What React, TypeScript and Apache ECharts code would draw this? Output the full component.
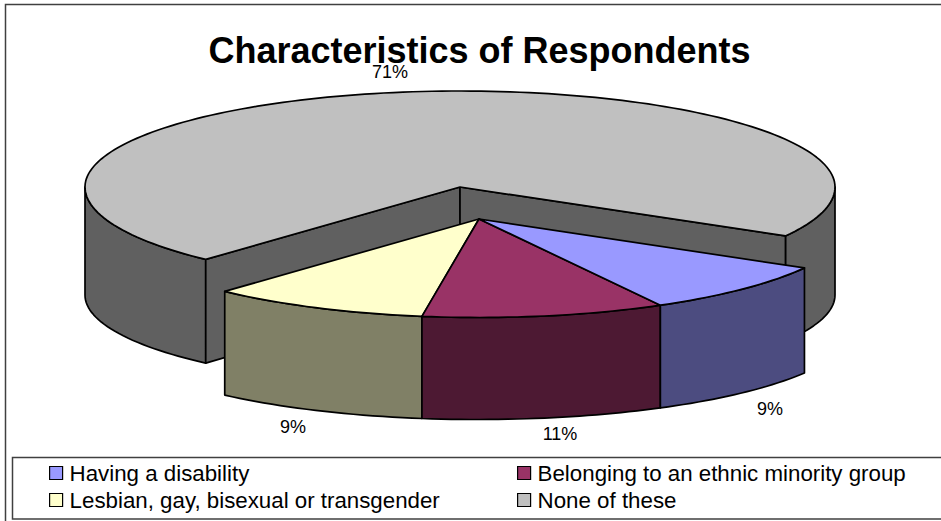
import React, { useEffect, useRef } from "react";
import * as echarts from "echarts";

const titleText = "Characteristics of Respondents";
const categories = [
  "Having a disability",
  "Belonging to an ethnic minority group",
  "Lesbian, gay, bisexual or transgender",
  "None of these",
];
const values = [9, 11, 9, 71];
const topColors = ["#9999FF", "#993366", "#FFFFCC", "#C0C0C0"];
const sideColors = ["#4C4C80", "#4D1933", "#808066", "#606060"];

// layout of the 3D pie
const FONT = "Liberation Sans, Arial, sans-serif";
const START_ANGLE = 29.8;
const RX = 375;
const RY_FRONT = 98.5;
const RY_BACK = 96;
const pieCenters = [
  [479, 219],
  [479, 219],
  [479, 219],
  [460, 187],
];
const labelCenters = [
  [770, 409],
  [560, 434],
  [293, 427],
  [390, 72],
];
const legendSlots = [
  { left: 49, top: 462 },
  { left: 517, top: 462 },
  { left: 49, top: 489 },
  { left: 517, top: 489 },
];

const total = values.reduce((a, b) => a + b, 0);

// perspective: angles near the viewer are slightly compressed
function warp(deg: number) {
  const t = (deg * Math.PI) / 180;
  const s = Math.sin(t);
  let out = deg;
  if (s > 0) out -= 3 * Math.pow(s, 8);
  const norm = ((deg % 360) + 360) % 360;
  if (norm > 90 && norm < 180) out -= 1.3 * Math.sin((2 * (norm - 90) * Math.PI) / 180);
  return out;
}
function rim(cx: number, cy: number, deg: number, drop = 0) {
  const t = (warp(deg) * Math.PI) / 180;
  const s = Math.sin(t);
  return [cx + RX * Math.cos(t), cy + s * (s >= 0 ? RY_FRONT : RY_BACK) + drop];
}
function depthAt(deg: number) {
  return 108 - 6 * Math.abs(Math.sin((deg * Math.PI) / 180));
}
function arc(cx: number, cy: number, a: number, b: number, lower = false) {
  const pts: number[][] = [];
  const n = Math.max(2, Math.ceil(Math.abs(b - a) / 1.5));
  for (let i = 0; i <= n; i++) {
    const d = a + ((b - a) * i) / n;
    pts.push(rim(cx, cy, d, lower ? depthAt(d) : 0));
  }
  return pts;
}
function wall(cx: number, cy: number, a: number, b: number) {
  return [...arc(cx, cy, a, b), ...arc(cx, cy, b, a, true)];
}

function renderSlice(index: number) {
  return (_params: any, api: any) => {
    const value = api.value(0) as number;
    const before = values.slice(0, index).reduce((s, v) => s + v, 0);
    const a0 = START_ANGLE + (before / total) * 360;
    const a1 = a0 + (value / total) * 360;
    const [cx, cy] = pieCenters[index];
    const edge = { stroke: "#000", lineWidth: 1.7, lineJoin: "round" };
    const poly = (points: number[][], fill: string) => ({
      type: "polygon",
      shape: { points },
      style: { fill, ...edge },
    });
    const children: any[] = [];
    const side = sideColors[index];
    if (a1 - a0 > 180) {
      // large back slice: outer wall either side plus two cut faces
      children.push(poly(wall(cx, cy, a0, 180), side));
      children.push(poly(wall(cx, cy, 360, a1), side));
      const drop = depthAt(90);
      const cutFace = (deg: number) => {
        const p = rim(cx, cy, deg);
        return [
          [cx, cy],
          p,
          [p[0], p[1] + depthAt(deg)],
          [cx, cy + drop],
        ];
      };
      children.push(poly(cutFace(a0), side));
      children.push(poly(cutFace(a1), side));
    } else {
      children.push(poly(wall(cx, cy, a0, a1), side));
    }
    children.push(poly([[cx, cy], ...arc(cx, cy, a0, a1)], topColors[index]));
    return { type: "group", children };
  };
}

function renderLabels(_params: any, api: any) {
  const i = api.value(0) as number;
  return {
    type: "text",
    x: labelCenters[i][0],
    y: labelCenters[i][1],
    z2: 10,
    style: {
      text: `${Math.round((values[i] / total) * 100)}%`,
      fill: "#000",
      font: `18px ${FONT}`,
      align: "center",
      verticalAlign: "middle",
    },
  };
}

export default function App() {
  const ref = useRef<HTMLDivElement>(null);
  useEffect(() => {
    if (!ref.current) return;
    const chart = echarts.init(ref.current, null, { renderer: "svg" });
    const drawOrder = [3, 2, 1, 0];
    chart.setOption({
      animation: false,
      backgroundColor: "#fff",
      title: {
        text: titleText,
        left: 479.5,
        top: 37,
        padding: 0,
        textAlign: "center",
        textStyle: {
          fontFamily: FONT,
          fontWeight: "bold",
          fontSize: 36,
          lineHeight: 26,
          color: "#000",
        },
      },
      legend: categories.map((name, i) => ({
        data: [name],
        left: legendSlots[i].left,
        top: legendSlots[i].top,
        padding: 0,
        itemWidth: 13,
        itemHeight: 13,
        itemGap: 0,
        selectedMode: false,
        icon: "rect",
        itemStyle: { borderColor: "#000", borderWidth: 1.2 },
        textStyle: { fontFamily: FONT, fontSize: 22.3, color: "#000", padding: [0, 0, 0, 2] },
      })),
      graphic: [
        {
          type: "rect",
          shape: { x: 5.5, y: 4.5, width: 980, height: 560 },
          style: { fill: "none", stroke: "#404040", lineWidth: 1.5 },
          silent: true,
        },
        {
          type: "rect",
          shape: { x: 12.5, y: 457.5, width: 980, height: 61.5 },
          style: { fill: "none", stroke: "#404040", lineWidth: 1.5 },
          silent: true,
        },
      ],
      series: [
        ...drawOrder.map((i) => ({
          type: "custom",
          name: categories[i],
          coordinateSystem: "none",
          silent: true,
          itemStyle: { color: topColors[i] },
          data: [[values[i]]],
          renderItem: renderSlice(i),
        })),
        {
          type: "custom",
          name: "labels",
          coordinateSystem: "none",
          silent: true,
          z: 5,
          data: values.map((_, i) => [i]),
          renderItem: renderLabels,
        },
      ],
    });
    return () => chart.dispose();
  }, []);
  return (
    <div
      ref={ref}
      style={{ position: "absolute", left: 0, top: 0, width: 941, height: 521, overflow: "hidden" }}
    />
  );
}
